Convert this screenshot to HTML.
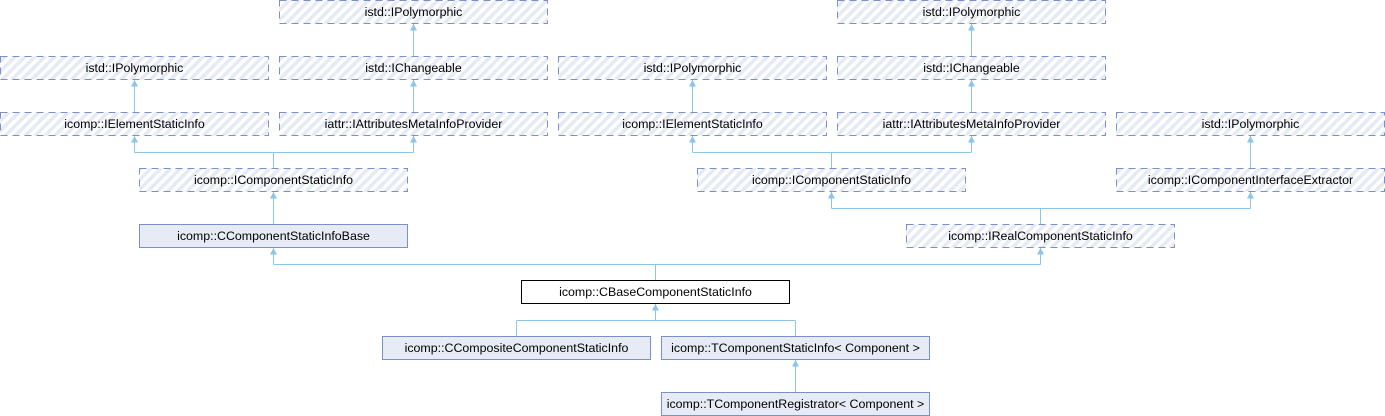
<!DOCTYPE html>
<html>
<head>
<meta charset="utf-8">
<style>
html,body{margin:0;padding:0;background:#fff;}
svg{display:block;}
text{font-family:"Liberation Sans",Arial,sans-serif;font-size:12.4px;fill:#000;text-anchor:middle;}
</style>
</head>
<body>
<svg width="1385" height="416" viewBox="0 0 1385 416" xmlns="http://www.w3.org/2000/svg">
<defs>
<pattern id="h" width="7" height="7" patternUnits="userSpaceOnUse" patternTransform="rotate(45)">
<rect x="0" y="0" width="7" height="7" fill="#ffffff"/>
<rect x="0" y="0" width="3.5" height="7" fill="#e5eaf4"/>
</pattern>
</defs>

<!-- connectors -->
<g stroke="#8cc4ea" stroke-width="1" fill="none">
<path d="M413.5 24V56 M971.5 24V56"/>
<path d="M134.5 80V112 M413.5 80V112 M692.5 80V112 M971.5 80V112"/>
<path d="M1250.5 136V168"/>
<path d="M134.5 136V152.5 M413.5 136V152.5 M134.5 152.5H413.5 M273.5 152.5V168"/>
<path d="M692.5 136V152.5 M971.5 136V152.5 M692.5 152.5H971.5 M831.5 152.5V168"/>
<path d="M273.5 192V224"/>
<path d="M831.5 192V208.5 M1250.5 192V208.5 M831.5 208.5H1250.5 M1040.5 208.5V224"/>
<path d="M273.5 248V264.5 M1040.5 248V264.5 M273.5 264.5H1040.5 M655.5 264.5V280"/>
<path d="M655.5 304V320.5 M516.5 320.5H795.5 M516.5 320.5V336 M795.5 320.5V336"/>
<path d="M795.5 360V392"/>
</g>
<g fill="#8cc4ea">
<polygon points="413.5,24 410,30.5 417,30.5"/>
<polygon points="971.5,24 968,30.5 975,30.5"/>
<polygon points="134.5,80 131,86.5 138,86.5"/>
<polygon points="413.5,80 410,86.5 417,86.5"/>
<polygon points="692.5,80 689,86.5 696,86.5"/>
<polygon points="971.5,80 968,86.5 975,86.5"/>
<polygon points="134.5,136 131,142.5 138,142.5"/>
<polygon points="413.5,136 410,142.5 417,142.5"/>
<polygon points="692.5,136 689,142.5 696,142.5"/>
<polygon points="971.5,136 968,142.5 975,142.5"/>
<polygon points="1250.5,136 1247,142.5 1254,142.5"/>
<polygon points="273.5,192 270,198.5 277,198.5"/>
<polygon points="831.5,192 828,198.5 835,198.5"/>
<polygon points="1250.5,192 1247,198.5 1254,198.5"/>
<polygon points="273.5,248 270,254.5 277,254.5"/>
<polygon points="1040.5,248 1037,254.5 1044,254.5"/>
<polygon points="655.5,304 652,310.5 659,310.5"/>
<polygon points="795.5,360 792,366.5 799,366.5"/>
</g>

<!-- interface (dashed, hatched) boxes -->
<g fill="url(#h)" stroke="#7b8fcb" stroke-width="1" stroke-dasharray="7,5">
<rect x="279.5" y="0.5" width="268" height="23"/>
<rect x="837.5" y="0.5" width="268" height="23"/>
<rect x="0.5" y="56.5" width="268" height="23"/>
<rect x="279.5" y="56.5" width="268" height="23"/>
<rect x="558.5" y="56.5" width="268" height="23"/>
<rect x="837.5" y="56.5" width="268" height="23"/>
<rect x="0.5" y="112.5" width="268" height="23"/>
<rect x="279.5" y="112.5" width="268" height="23"/>
<rect x="558.5" y="112.5" width="268" height="23"/>
<rect x="837.5" y="112.5" width="268" height="23"/>
<rect x="1116.5" y="112.5" width="268" height="23"/>
<rect x="139.5" y="168.5" width="268" height="23"/>
<rect x="697.5" y="168.5" width="268" height="23"/>
<rect x="1116.5" y="168.5" width="268" height="23"/>
<rect x="906.5" y="224.5" width="268" height="23"/>
</g>

<!-- solid boxes -->
<g fill="#e6ebf5" stroke="#7b8fcb" stroke-width="1">
<rect x="139.5" y="224.5" width="268" height="23"/>
<rect x="382.5" y="336.5" width="268" height="23"/>
<rect x="661.5" y="336.5" width="268" height="23"/>
<rect x="661.5" y="392.5" width="268" height="23"/>
</g>
<rect x="521.5" y="280.5" width="268" height="23" fill="#ffffff" stroke="#000000" stroke-width="1"/>

<!-- labels -->
<text x="413.5" y="16">istd::IPolymorphic</text>
<text x="971.5" y="16">istd::IPolymorphic</text>
<text x="134.5" y="72">istd::IPolymorphic</text>
<text x="413.5" y="72">istd::IChangeable</text>
<text x="692.5" y="72">istd::IPolymorphic</text>
<text x="971.5" y="72">istd::IChangeable</text>
<text x="134.5" y="128">icomp::IElementStaticInfo</text>
<text x="413.5" y="128">iattr::IAttributesMetaInfoProvider</text>
<text x="692.5" y="128">icomp::IElementStaticInfo</text>
<text x="971.5" y="128">iattr::IAttributesMetaInfoProvider</text>
<text x="1250.5" y="128">istd::IPolymorphic</text>
<text x="273.5" y="184">icomp::IComponentStaticInfo</text>
<text x="831.5" y="184">icomp::IComponentStaticInfo</text>
<text x="1250.5" y="184">icomp::IComponentInterfaceExtractor</text>
<text x="273.5" y="240">icomp::CComponentStaticInfoBase</text>
<text x="1040.5" y="240">icomp::IRealComponentStaticInfo</text>
<text x="655.5" y="296">icomp::CBaseComponentStaticInfo</text>
<text x="516.5" y="352">icomp::CCompositeComponentStaticInfo</text>
<text x="795.5" y="352">icomp::TComponentStaticInfo&lt; Component &gt;</text>
<text x="795.5" y="408">icomp::TComponentRegistrator&lt; Component &gt;</text>
</svg>
</body>
</html>
